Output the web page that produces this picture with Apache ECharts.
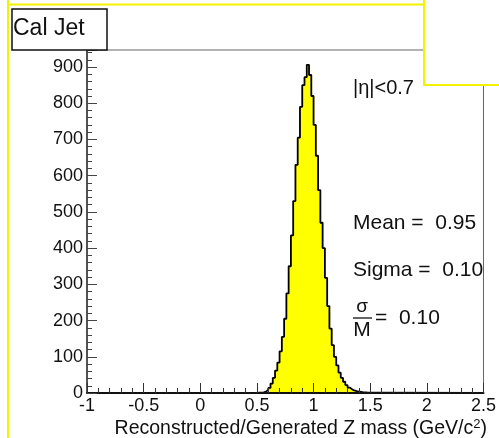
<!DOCTYPE html>
<html><head><meta charset="utf-8">
<script src="https://cdn.jsdelivr.net/npm/echarts@6/dist/echarts.min.js"></script>
<style>html,body{margin:0;padding:0;background:#fff}#c{width:499px;height:438px}</style>
</head><body><div id="c"></div>
<script>
// Histogram bins (lower edges, width 0.02) and counts
const binLowEdges = [0.50,0.52,0.54,0.56,0.58,0.60,0.62,0.64,0.66,0.68,
  0.70,0.72,0.74,0.76,0.78,0.80,0.82,0.84,0.86,0.88,
  0.90,0.92,0.94,0.96,0.98,1.00,1.02,1.04,1.06,1.08,
  1.10,1.12,1.14,1.16,1.18,1.20,1.22,1.24,1.26,1.28,
  1.30,1.32,1.34,1.36,1.38,1.40,1.42,1.44,1.46,1.48];
const binCounts = [1,1,2,4,8,14,26,42,62,84,
  115,155,205,275,350,435,530,630,705,790,
  850,872,906,878,820,740,655,560,470,400,
  318,240,178,132,100,76,56,42,31,22,
  15,10,7,5,4,3,2,2,1,1];
const histRange = [-1, 2.5];
const lastEdge = 1.50;
const yMax = 947;
const titleText = 'Cal Jet';
const etaText = '|η|<0.7';
const meanText = 'Mean =  0.95';
const sigmaText = 'Sigma =  0.10';
const ratioText = '=  0.10';
const xTitle = 'Reconstructed/Generated Z mass (GeV/c';

const stepData = [[histRange[0], 0]]
  .concat(binLowEdges.map((x, i) => [x, binCounts[i]]))
  .concat([[lastEdge, 0], [histRange[1], 0]]);

const font = 'Liberation Sans, Arial, Helvetica, sans-serif';
const chart = echarts.init(document.getElementById('c'), null, {renderer: 'canvas'});
chart.setOption({
  animation: false,
  backgroundColor: '#fff',
  grid: {left: 87, right: 12, top: 50, bottom: 45, show: true, borderColor: '#666', borderWidth: 1},
  xAxis: {
    type: 'value', min: -1, max: 2.5, interval: 0.5, z: 10,
    axisLine: {show: true, onZero: false, lineStyle: {color: '#111', width: 2}},
    axisTick: {show: true, inside: true, length: 10, lineStyle: {color: '#333', width: 1}},
    minorTick: {show: true, splitNumber: 5, length: 5, lineStyle: {color: '#333', width: 1}},
    splitLine: {show: false},
    axisLabel: {color: '#111', fontSize: 18, fontFamily: font, margin: 4,
      formatter: v => String(v)}
  },
  yAxis: {
    type: 'value', min: 0, max: yMax, interval: 100, z: 10,
    axisLine: {show: true, onZero: false, lineStyle: {color: '#333', width: 1.5}},
    axisTick: {show: true, inside: true, length: 10, lineStyle: {color: '#444', width: 1}},
    minorTick: {show: true, splitNumber: 5, length: 5, lineStyle: {color: '#444', width: 1}},
    splitLine: {show: false},
    axisLabel: {color: '#111', fontSize: 18, fontFamily: font, margin: 4,
      formatter: v => (v % 100 === 0 ? String(v) : '')}
  },
  series: [{
    type: 'line', step: 'end', data: stepData, symbol: 'none', z: 2,
    lineStyle: {color: '#000', width: 1.8},
    areaStyle: {color: '#ffff00', opacity: 1, origin: 'start'}
  }],
  graphic: [
    {type: 'line', z: 100, shape: {x1: 8, y1: 0, x2: 8, y2: 438}, style: {stroke: '#f2f200', lineWidth: 2}},
    {type: 'line', z: 100, shape: {x1: 8, y1: 4.5, x2: 424, y2: 4.5}, style: {stroke: '#f2f200', lineWidth: 2}},
    {type: 'rect', z: 100, shape: {x: 424, y: -5, width: 90, height: 90}, style: {fill: '#fff', stroke: '#f2f200', lineWidth: 2}},
    {type: 'rect', z: 100, shape: {x: 12, y: 9, width: 95, height: 41}, style: {fill: '#fff', stroke: '#111', lineWidth: 1.5}},
    {type: 'text', z: 101, x: 13, y: 29, style: {text: titleText, font: '23px ' + font, fill: '#111', textVerticalAlign: 'middle'}},
    {type: 'text', z: 101, x: 353, y: 88, style: {text: etaText, font: '20px ' + font, fill: '#111', textVerticalAlign: 'middle'}},
    {type: 'text', z: 101, x: 353, y: 223, style: {text: meanText, font: '21px ' + font, fill: '#111', textVerticalAlign: 'middle'}},
    {type: 'text', z: 101, x: 353, y: 270, style: {text: sigmaText, font: '21px ' + font, fill: '#111', textVerticalAlign: 'middle'}},
    {type: 'text', z: 101, x: 362, y: 307, style: {text: 'σ', font: '19px ' + font, fill: '#111', textAlign: 'center', textVerticalAlign: 'middle'}},
    {type: 'line', z: 101, shape: {x1: 353, y1: 318, x2: 372, y2: 318}, style: {stroke: '#111', lineWidth: 1.3}},
    {type: 'text', z: 101, x: 362, y: 330, style: {text: 'M', font: '21px ' + font, fill: '#111', textAlign: 'center', textVerticalAlign: 'middle'}},
    {type: 'text', z: 101, x: 375, y: 318, style: {text: ratioText, font: '21px ' + font, fill: '#111', textVerticalAlign: 'middle'}},
    {type: 'text', z: 101, x: 487, y: 429, style: {
      text: xTitle + '{s|2})', font: '19.5px ' + font, fill: '#111', textAlign: 'right', textVerticalAlign: 'middle',
      rich: {s: {fontSize: 13, fontFamily: font, fill: '#111', verticalAlign: 'top', padding: [0, 0, 9, 0]}}
    }}
  ]
});
</script>
</body></html>
